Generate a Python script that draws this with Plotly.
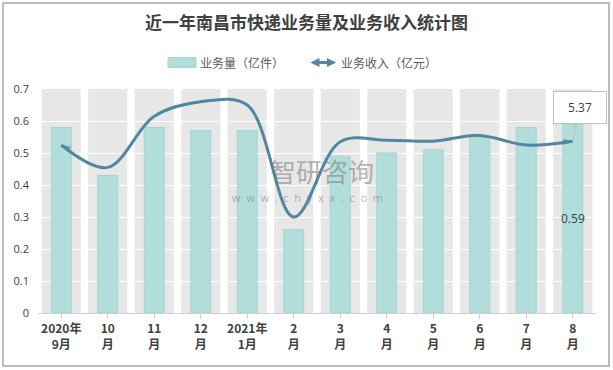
import plotly.graph_objects as go

categories = ["2020年<br>9月", "10<br>月", "11<br>月", "12<br>月", "2021年<br>1月", "2<br>月",
              "3<br>月", "4<br>月", "5<br>月", "6<br>月", "7<br>月", "8<br>月"]
volume = [0.58, 0.43, 0.58, 0.57, 0.57, 0.26, 0.49, 0.50, 0.51, 0.55, 0.58, 0.59]
revenue = [5.25, 4.55, 6.15, 6.60, 6.50, 3.00, 5.35, 5.40, 5.37, 5.55, 5.25, 5.37]
y_ticks = [0, 0.1, 0.2, 0.3, 0.4, 0.5, 0.6, 0.7]
series_names = ["业务量（亿件）", "业务收入（亿元）"]

W, H = 613, 370
ML, MR, MT, MB = 38, 17, 89, 57
PW, PH = W - ML - MR, H - MT - MB


def px(x):
    return (x - ML) / PW


def py(y):
    return (H - MB - y) / PH


LINE_C = "#4f88a0"
BAR_C = "#b1dedb"
TXT = "#404040"

n = len(categories)
xs = list(range(n))

fig = go.Figure()
fig.add_trace(go.Bar(
    x=xs, y=volume, name=series_names[0], width=0.43,
    marker=dict(color=BAR_C, line=dict(color="#a3d6d2", width=1)),
    hoverinfo="skip",
))

angles = [-64] + [0] * (n - 2) + [86]
sizes = [10] + [0] * (n - 2) + [10]
fig.add_trace(go.Scatter(
    x=xs, y=revenue, name=series_names[1], yaxis="y2",
    mode="lines+markers",
    line=dict(color=LINE_C, width=3, shape="spline", smoothing=1.0),
    marker=dict(symbol="arrow", size=sizes, angle=angles, color=LINE_C,
                line=dict(width=0)),
    hoverinfo="skip",
))

shapes = []
for i in xs:
    shapes.append(dict(type="rect", xref="x", yref="y", x0=i - 0.42, x1=i + 0.42,
                       y0=0, y1=y_ticks[-1], fillcolor="#e7e7e7", line=dict(width=0),
                       layer="below"))
# outer border
shapes.append(dict(type="rect", xref="paper", yref="paper", x0=px(3), x1=px(609),
                   y0=py(366), y1=py(3), line=dict(color="#a6a6a6", width=1.5),
                   fillcolor="rgba(0,0,0,0)", layer="above"))
# legend swatch for bars
shapes.append(dict(type="rect", xref="paper", yref="paper", x0=px(168), x1=px(196),
                   y0=py(67.5), y1=py(57.5), fillcolor=BAR_C,
                   line=dict(color="#a3d6d2", width=1)))

leg_font = dict(size=12, color="#595959", family="Noto Sans CJK SC")
annotations = [
    dict(x=px(198), y=py(62.5), xref="paper", yref="paper", text=series_names[0],
         showarrow=False, xanchor="left", yanchor="middle", font=leg_font),
    dict(x=px(339), y=py(62.5), xref="paper", yref="paper", text=series_names[1],
         showarrow=False, xanchor="left", yanchor="middle", font=leg_font),
    dict(x=px(336), y=py(62.5), xref="paper", yref="paper", text="",
         ax=-27, ay=0, axref="pixel", ayref="pixel",
         showarrow=True, arrowhead=2, arrowside="end+start", arrowsize=0.6,
         arrowwidth=3, arrowcolor=LINE_C),
    dict(x=n - 1, y=revenue[-1], xref="x", yref="y2", text=f"{revenue[-1]:.2f}",
         showarrow=True, arrowhead=0, arrowwidth=1, arrowcolor="#bfbfbf",
         ax=7, ay=-34, bgcolor="white", bordercolor="#bfbfbf", borderwidth=1,
         width=50, height=29,
         font=dict(size=12, color=TXT, family="Open Sans, Noto Sans CJK SC")),
    dict(x=n - 1, y=volume[-1] / 2, xref="x", yref="y", text=f"{volume[-1]:.2f}",
         showarrow=False,
         font=dict(size=12, color=TXT, family="Open Sans, Noto Sans CJK SC")),
    dict(x=px(322), y=py(170), xref="paper", yref="paper", text="智研咨询",
         showarrow=False, font=dict(size=26, color="rgba(120,120,120,0.55)",
                                    family="Noto Sans CJK SC")),
    dict(x=px(307), y=py(197), xref="paper", yref="paper",
         text="w  w  w  .  c  h  y  x  x  .  c  o  m",
         showarrow=False, font=dict(size=11, color="rgba(120,120,120,0.55)",
                                    family="Open Sans")),
]

fig.update_layout(
    width=W, height=H,
    margin=dict(l=ML, r=MR, t=MT, b=MB, autoexpand=False),
    paper_bgcolor="white", plot_bgcolor="white",
    barmode="overlay",
    showlegend=False,
    title=dict(text="<b>近一年南昌市快递业务量及业务收入统计图</b>",
               x=0.5, xanchor="center", y=1 - 23 / H, yanchor="middle",
               font=dict(size=17, color=TXT, family="Noto Sans CJK SC")),
    xaxis=dict(tickmode="array", tickvals=xs, ticktext=[f"<b>{c}</b>" for c in categories],
               range=[-0.5, n - 0.5], showgrid=False, zeroline=False,
               showline=True, linecolor="#d0d0d0", linewidth=1,
               ticks="outside", ticklen=5, tickcolor="#d0d0d0",
               tickfont=dict(size=12, color=TXT, family="Noto Sans CJK SC")),
    yaxis=dict(range=[0, 0.7], tickvals=y_ticks, ticktext=[f"{v:g}" for v in y_ticks],
               showgrid=True, gridcolor="white", gridwidth=1, zeroline=False,
               showline=False, ticks="", ticklabelstandoff=8,
               tickfont=dict(size=11, color=TXT, family="Open Sans, Noto Sans CJK SC")),
    yaxis2=dict(range=[0, 7], overlaying="y", side="right", visible=False),
    shapes=shapes,
    annotations=annotations,
)

fig.write_html("out.html", config={"displayModeBar": False},
               post_script="document.body.style.margin='0';document.body.style.overflow='hidden';")
